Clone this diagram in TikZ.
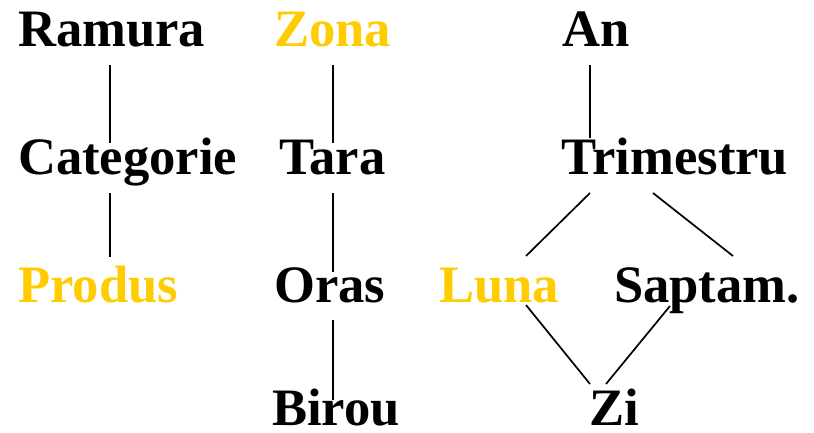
\documentclass[tikz,border=0pt]{standalone}
\usepackage{fontspec}
\setmainfont{Liberation Serif}
\definecolor{gold}{HTML}{FFCC00}
\begin{document}
\begin{tikzpicture}[x=1pt,y=-1pt,
  lvl/.style={anchor=base west,inner sep=0pt,text depth=0pt,font=\fontsize{52.6}{60}\selectfont\bfseries},
  hi/.style={lvl,text=gold},
  link/.style={line width=1.7pt}]
\useasboundingbox (0,0) rectangle (814,433);
% product hierarchy
\node[lvl] (ram) at (18,47) {Ramura};
\node[lvl] (cat) at (18,175) {Categorie};
\node[hi]  (pro) at (18,302) {Produs};
% geography hierarchy
\node[hi]  (zon) at (274,47) {Zona};
\node[lvl] (tar) at (279,175) {Tara};
\node[lvl] (ora) at (274,302) {Oras};
\node[lvl] (bir) at (272,425) {Birou};
% time hierarchy
\node[lvl] (an)  at (562,47) {An};
\node[lvl] (tri) at (561,175) {Trimestru};
\node[hi]  (lun) at (439,302) {Luna};
\node[lvl] (sap) at (614,302) {Saptam.};
\node[lvl] (zi)  at (589,425) {Zi};
% connectors
\draw[link] ([shift={(92,18)}]ram.base west) -- ([shift={(92,-32)}]cat.base west);
\draw[link] ([shift={(92,18)}]cat.base west) -- ([shift={(92,-45)}]pro.base west);
\draw[link] ([shift={(59,18)}]zon.base west) -- ([shift={(54,-32)}]tar.base west);
\draw[link] ([shift={(54,18)}]tar.base west) -- ([shift={(59,-30)}]ora.base west);
\draw[link] ([shift={(59,18)}]ora.base west) -- ([shift={(61,-25)}]bir.base west);
\draw[link] ([shift={(28,18)}]an.base west) -- ([shift={(29,-37)}]tri.base west);
\draw[link] ([shift={(29,18)}]tri.base west) -- ([shift={(87,-46)}]lun.base west);
\draw[link] ([shift={(92,18)}]tri.base west) -- ([shift={(119,-46)}]sap.base west);
\draw[link] ([shift={(87,3)}]lun.base west) -- ([shift={(1,-41)}]zi.base west);
\draw[link] ([shift={(56,4)}]sap.base west) -- ([shift={(17,-41)}]zi.base west);
\end{tikzpicture}
\end{document}
